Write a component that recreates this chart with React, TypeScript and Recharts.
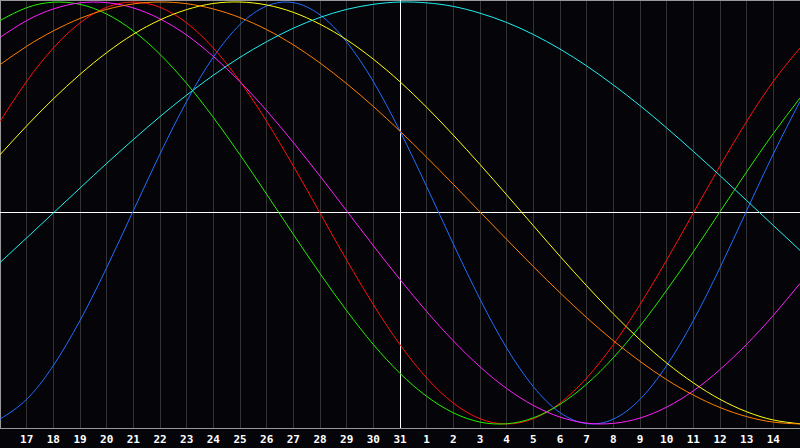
import { CartesianGrid, Line, LineChart, ReferenceLine, XAxis, YAxis } from "recharts";

// Day labels, from the 16th of one month to the 15th of the next
const dayLabels = [
  "16", "17", "18", "19", "20", "21", "22", "23", "24", "25", "26", "27", "28", "29", "30", "31",
  "1", "2", "3", "4", "5", "6", "7", "8", "9", "10", "11", "12", "13", "14", "15",
];

// Cycle values, one per day (-1 .. 1)
const blue = [
  -0.977, -0.883, -0.723, -0.510, -0.259, 0.011, 0.280, 0.529, 0.739, 0.893, 0.981,
  0.997, 0.939, 0.811, 0.623, 0.388, 0.125, -0.147, -0.408, -0.640, -0.823,
  -0.946, -0.998, -0.977, -0.883, -0.723, -0.510, -0.259, 0.011, 0.280, 0.529,
];
const red = [
  0.434, 0.624, 0.782, 0.901, 0.975, 1.0, 0.975, 0.901, 0.782, 0.624, 0.434,
  0.223, 0, -0.223, -0.434, -0.624, -0.782, -0.901, -0.975, -1.0, -0.975,
  -0.901, -0.782, -0.624, -0.434, -0.223, 0, 0.223, 0.434, 0.624, 0.782,
];
const green = [
  0.912, 0.973, 0.999, 0.989, 0.943, 0.863, 0.752, 0.614, 0.453, 0.276, 0.089,
  -0.101, -0.287, -0.463, -0.623, -0.760, -0.869, -0.947, -0.991, -0.999, -0.971,
  -0.907, -0.811, -0.686, -0.536, -0.366, -0.184, 0.006, 0.195, 0.377, 0.545,
];
const magenta = [
  0.832, 0.912, 0.967, 0.996, 0.997, 0.972, 0.920, 0.843, 0.742, 0.622, 0.485,
  0.334, 0.175, 0.010, -0.155, -0.315, -0.467, -0.606, -0.729, -0.832, -0.912,
  -0.967, -0.996, -0.997, -0.972, -0.920, -0.843, -0.742, -0.622, -0.485, -0.334,
];
const yellow = [
  0.276, 0.413, 0.541, 0.657, 0.760, 0.847, 0.915, 0.964, 0.993, 1.0, 0.986,
  0.951, 0.895, 0.821, 0.729, 0.622, 0.501, 0.369, 0.230, 0.086, -0.060,
  -0.205, -0.345, -0.478, -0.601, -0.711, -0.805, -0.883, -0.942, -0.981, -0.999,
];
const orange = [
  0.703, 0.790, 0.863, 0.922, 0.965, 0.991, 1.0, 0.992, 0.967, 0.926, 0.869,
  0.797, 0.711, 0.613, 0.505, 0.388, 0.264, 0.136, 0.005, -0.125, -0.254,
  -0.378, -0.496, -0.605, -0.703, -0.790, -0.863, -0.922, -0.965, -0.991, -1.0,
];
const cyan = [
  -0.235, -0.118, 0.0, 0.118, 0.235, 0.348, 0.457, 0.559, 0.653, 0.738, 0.812,
  0.876, 0.927, 0.965, 0.989, 1.0, 0.996, 0.979, 0.947, 0.903, 0.846,
  0.777, 0.697, 0.607, 0.509, 0.403, 0.292, 0.177, 0.059, -0.059, -0.177,
];

const series = [
  { key: "blue", color: "#1f6fff", values: blue },
  { key: "red", color: "#ff1010", values: red },
  { key: "green", color: "#22f000", values: green },
  { key: "magenta", color: "#ff20ff", values: magenta },
  { key: "yellow", color: "#ffff10", values: yellow },
  { key: "orange", color: "#ff8000", values: orange },
  { key: "cyan", color: "#20f0f0", values: cyan },
];

const data = dayLabels.map((label, i) => {
  const row: Record<string, number | string> = { i, label };
  series.forEach((s) => (row[s.key] = s.values[i]));
  return row;
});

const TODAY = 15;
const Y_TOP = 1.0095;
const Y_BOTTOM = -1.019;

const DayTick = ({ x, y, payload }: any) => {
  const idx = payload.value as number;
  if (idx === 0 || idx === dayLabels.length - 1) return null;
  return (
    <text
      x={x}
      y={y + 15}
      textAnchor="middle"
      fill="#ffffff"
      fontFamily="'DejaVu Sans Mono', monospace"
      fontWeight="bold"
      fontSize={11}
    >
      {dayLabels[idx]}
    </text>
  );
};

export default function App() {
  return (
    <div style={{ position: "absolute", left: 0, top: 0, width: 800, height: 448, background: "#050408" }}>
      <LineChart width={800} height={448} data={data} margin={{ top: 0, right: 0, bottom: 0, left: 0 }}>
        <CartesianGrid horizontal={false} stroke="#333333" strokeWidth={1} shapeRendering="crispEdges" />
        <XAxis
          dataKey="i"
          type="number"
          domain={[0, 30]}
          ticks={data.map((d) => d.i as number)}
          interval={0}
          height={20}
          tick={<DayTick />}
          tickLine={false}
          tickSize={0}
          tickMargin={0}
          axisLine={{ stroke: "#999999", shapeRendering: "crispEdges" }}
        />
        <YAxis hide domain={[Y_BOTTOM, Y_TOP]} allowDataOverflow />
        <ReferenceLine x={0} stroke="#999999" shapeRendering="crispEdges" />
        <ReferenceLine y={Y_TOP} stroke="#999999" shapeRendering="crispEdges" />
        <ReferenceLine y={0} stroke="#ffffff" shapeRendering="crispEdges" />
        <ReferenceLine x={TODAY} stroke="#ffffff" shapeRendering="crispEdges" />
        {series.map((s) => (
          <Line
            key={s.key}
            type="natural"
            dataKey={s.key}
            stroke={s.color}
            strokeWidth={1}
            dot={false}
            activeDot={false}
            isAnimationActive={false}
          />
        ))}
      </LineChart>
    </div>
  );
}
